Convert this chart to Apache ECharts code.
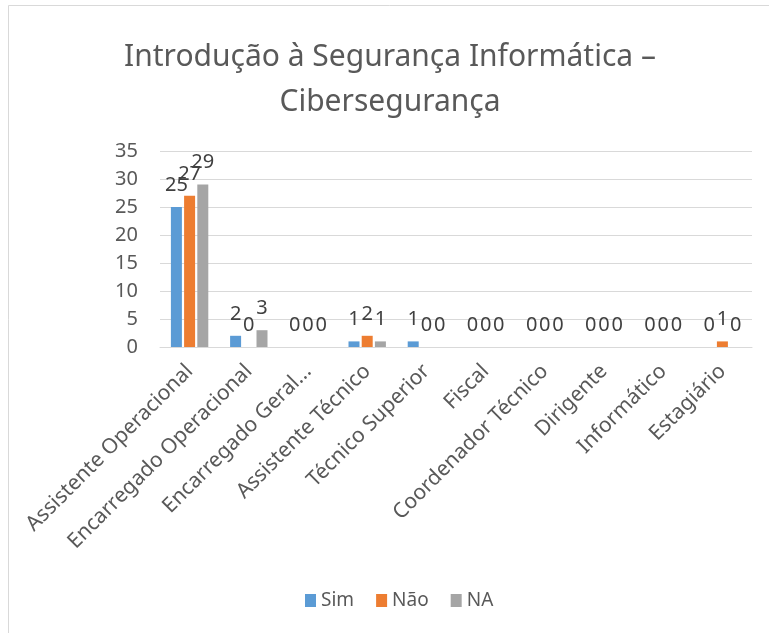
<!DOCTYPE html>
<html>
<head>
<meta charset="utf-8">
<script src="https://cdn.jsdelivr.net/npm/echarts@6/dist/echarts.min.js"></script>
<style>
  html, body { margin: 0; padding: 0; background: #fff; }
  #chart { width: 769px; height: 633px; }
</style>
</head>
<body>
<div id="chart"></div>
<script>
  // dados do gráfico
  const categorias = ['Assistente Operacional', 'Encarregado Operacional', 'Encarregado Geral...',
    'Assistente Técnico', 'Técnico Superior', 'Fiscal', 'Coordenador Técnico', 'Dirigente',
    'Informático', 'Estagiário'];
  const sim = [25, 2, 0, 1, 1, 0, 0, 0, 0, 0];
  const nao = [27, 0, 0, 2, 0, 0, 0, 0, 0, 1];
  const na = [29, 3, 0, 1, 0, 0, 0, 0, 0, 0];
  const nomes = ['Sim', 'Não', 'NA'];

  const fonte = '"Noto Sans", sans-serif';
  const cores = ['#5b9bd5', '#ed7d31', '#a5a5a5'];

  const myChart = echarts.init(document.getElementById('chart'));

  let seriesData = [sim, nao, na].map((v, i) => {
    return {
      name: nomes[i],
      type: 'bar',
      barWidth: 11,
      barGap: '20%',
      itemStyle: { color: cores[i] },
      label: {
        show: true,
        position: 'top',
        distance: 12,
        color: '#404040',
        fontFamily: fonte,
        fontSize: 20
      },
      data: v
    }
  });

  let option = {
    backgroundColor: '#fff',
    animation: false,
    title: {
      text: 'Introdução à Segurança Informática –\nCibersegurança',
      left: 385,
      textAlign: 'center',
      top: 30,
      textStyle: {
        fontFamily: fonte,
        fontWeight: 'normal',
        fontSize: 30,
        lineHeight: 45,
        color: '#595959'
      }
    },
    graphic: [{
      type: 'rect',
      shape: { x: 8.5, y: 5.5, width: 900, height: 800 },
      style: { fill: 'none', stroke: '#d9d9d9', lineWidth: 1 },
      silent: true
    }],
    legend: {
      data: nomes,
      left: 300,
      top: 586,
      itemWidth: 11,
      itemHeight: 13,
      itemGap: 22,
      icon: 'rect',
      textStyle: { fontFamily: fonte, fontSize: 19, color: '#595959' }
    },
    grid: {
      left: 160,
      right: 17,
      top: 151,
      bottom: 286
    },
    xAxis: {
      type: 'category',
      data: categorias,
      axisTick: { show: false },
      axisLine: { lineStyle: { color: '#d9d9d9', width: 1 } },
      axisLabel: {
        interval: 0,
        rotate: 45,
        margin: 21,
        color: '#595959',
        fontFamily: fonte,
        fontSize: 21
      }
    },
    yAxis: {
      type: 'value',
      min: 0,
      max: 35,
      interval: 5,
      axisLine: { show: false },
      axisTick: { show: false },
      axisLabel: {
        margin: 22,
        color: '#595959',
        fontFamily: fonte,
        fontSize: 20
      },
      splitLine: { lineStyle: { color: '#d9d9d9', width: 1 } }
    },
    series: seriesData
  };

  myChart.setOption(option);
</script>
</body>
</html>
